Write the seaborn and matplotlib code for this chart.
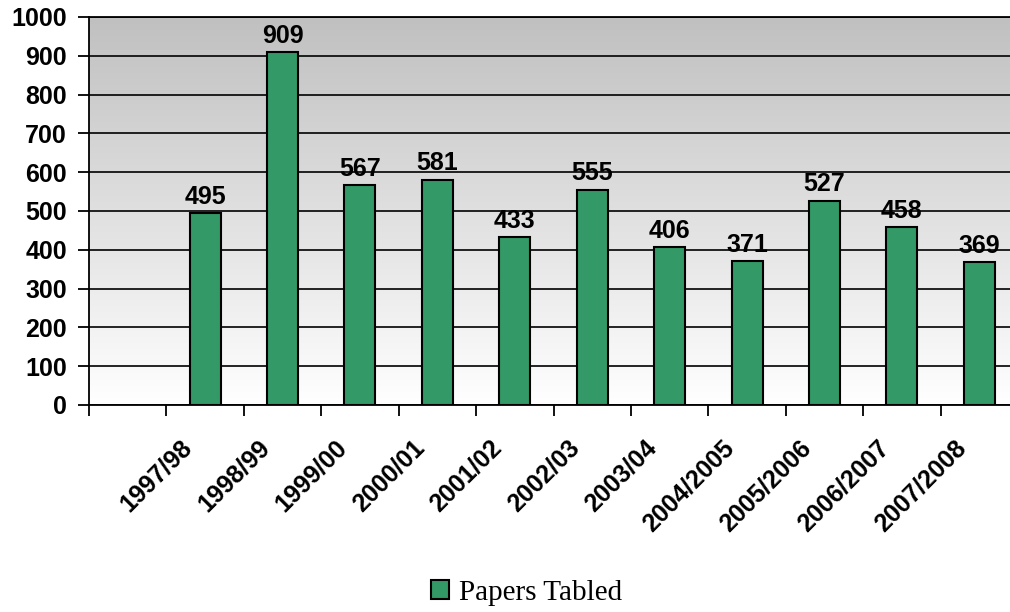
import matplotlib
matplotlib.use("Agg")
import matplotlib.pyplot as plt
import matplotlib.transforms as mtransforms
import numpy as np
import pandas as pd
import seaborn as sns
from matplotlib.colors import LinearSegmentedColormap
from matplotlib.patches import Patch

years = ["1997/98", "1998/99", "1999/00", "2000/01", "2001/02", "2002/03",
         "2003/04", "2004/2005", "2005/2006", "2006/2007", "2007/2008"]
papers = [495, 909, 567, 581, 433, 555, 406, 371, 527, 458, 369]
series_name = "Papers Tabled"
y_ticks = list(range(0, 1001, 100))

BAR_COLOR = "#339966"

sns.set_theme(style="white")
plt.rcParams["font.family"] = ["Liberation Sans", "DejaVu Sans"]
plt.rcParams["text.color"] = "black"
plt.rcParams["xtick.color"] = "black"
plt.rcParams["ytick.color"] = "black"

df = pd.DataFrame({"year": years, "papers": papers})

fig = plt.figure(figsize=(10.1, 6.12), dpi=100)
ax = fig.add_axes([89 / 1010, 1 - 405 / 612, 929 / 1010, 388 / 612])

# grey-to-white background gradient like the Excel plot area
grad = LinearSegmentedColormap.from_list("bg", ["#ffffff", "#c0c0c0"])
ax.imshow(np.linspace(0, 1, 256).reshape(-1, 1), extent=(-1.5, 10.5, 0, 1000),
          origin="lower", aspect="auto", cmap=grad, zorder=0)

sns.barplot(data=df, x="year", y="papers", color=BAR_COLOR, width=0.4,
            edgecolor="black", linewidth=1.5, saturation=1, ax=ax, zorder=3)

ax.bar_label(ax.containers[0], fmt="%d", padding=3, fontsize=18,
             fontweight="bold", color="black", zorder=4)

ax.set_xlim(-1.5, 10.5)
ax.set_ylim(0, 1000)
ax.set_yticks(y_ticks)
ax.set_xlabel("")
ax.set_ylabel("")
ax.grid(axis="y", color="black", lw=1.2, zorder=1)
ax.set_axisbelow(False)
for line in ax.get_ygridlines():
    line.set_zorder(1)

ax.set_xticks(np.arange(-1.5, 11, 1), minor=True)
ax.tick_params(axis="x", which="minor", length=8, width=1.3, color="black",
               direction="out", bottom=True)
ax.tick_params(axis="x", which="major", length=0, pad=22)
ax.tick_params(axis="y", length=8, width=1.3, color="black", direction="out",
               left=True, pad=8)
shift = mtransforms.ScaledTranslation(-6 / 72, 0, fig.dpi_scale_trans)
for lbl in ax.get_xticklabels():
    lbl.set_rotation(45)
    lbl.set_ha("right")
    lbl.set_fontsize(18)
    lbl.set_fontweight("bold")
    lbl.set_transform(lbl.get_transform() + shift)
plt.setp(ax.get_yticklabels(), fontsize=18, fontweight="bold")

for side in ["left", "bottom", "top"]:
    ax.spines[side].set_visible(True)
    ax.spines[side].set_color("black")
    ax.spines[side].set_linewidth(1.3)
ax.spines["right"].set_visible(False)

handle = Patch(facecolor=BAR_COLOR, edgecolor="black", linewidth=1.5)
fig.legend([handle], [series_name], loc="center", bbox_to_anchor=(0.521, 0.031),
           frameon=False, prop={"family": "Liberation Serif", "size": 21},
           handlelength=0.62, handleheight=0.62, handletextpad=0.35)

fig.savefig("out.png", dpi=100)
